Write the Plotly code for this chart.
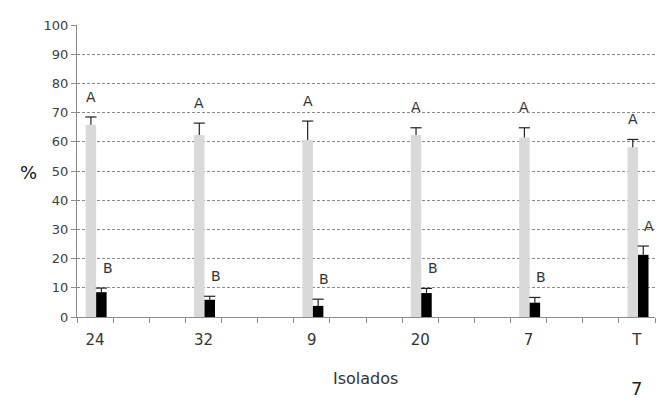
import plotly.graph_objects as go

categories = ["24", "32", "9", "20", "7", "T"]
gray_values = [65.8, 62.3, 60.6, 62.3, 61.5, 58.1]
gray_errors = [2.7, 4.1, 6.5, 2.5, 3.3, 2.7]
gray_letters = ["A", "A", "A", "A", "A", "A"]
black_values = [8.5, 5.9, 3.8, 8.2, 4.9, 21.3]
black_errors = [1.4, 1.2, 2.3, 1.6, 1.8, 3.0]
black_letters = ["B", "B", "B", "B", "B", "A"]
y_ticks = [0, 10, 20, 30, 40, 50, 60, 70, 80, 90, 100]

SLOTS_PER_GROUP = 3
xpos = [i * SLOTS_PER_GROUP for i in range(len(categories))]
n_slots = len(categories) * SLOTS_PER_GROUP - (SLOTS_PER_GROUP - 1)
BW = 0.29
ERR_COLOR = "#222222"

fig = go.Figure()
series = [
    (gray_values, gray_errors, gray_letters, "#d9d9d9", -BW + 0.03),
    (black_values, black_errors, black_letters, "#000000", 0.03),
]
for vals, errs, _, color, off in series:
    fig.add_trace(go.Bar(
        x=xpos, y=vals, width=BW, offset=off,
        marker=dict(color=color, line=dict(width=0)),
        error_y=dict(type="data", symmetric=False, array=errs,
                     arrayminus=[0] * len(errs), color=ERR_COLOR,
                     thickness=1.2, width=0),
        showlegend=False, hoverinfo="skip"))
    # caps at the top of each error bar (T shape)
    centers = [x + off + BW / 2 for x in xpos]
    fig.add_trace(go.Scatter(
        x=centers, y=[v + e for v, e in zip(vals, errs)], mode="markers",
        marker=dict(symbol="line-ew", size=8, line=dict(width=1.2, color=ERR_COLOR)),
        showlegend=False, hoverinfo="skip"))

annotations = []
for x, v, e, t in zip(xpos, gray_values, gray_errors, gray_letters):
    annotations.append(dict(x=x - BW / 2 + 0.03, y=v + e + 7, text=t, showarrow=False,
                            xref="x", yref="y", font=dict(size=14, color="#333333",
                            family="DejaVu Sans")))
for x, v, e, t in zip(xpos, black_values, black_errors, black_letters):
    annotations.append(dict(x=x + BW / 2 + 0.03 + 0.17, y=v + e + 7, text=t, showarrow=False,
                            xref="x", yref="y", font=dict(size=14, color="#333333",
                            family="DejaVu Sans")))
annotations.append(dict(x=28, y=172, text="%", showarrow=False,
                        font=dict(size=18, color="#111111", family="DejaVu Sans")))
annotations.append(dict(x=365, y=378, text="Isolados", showarrow=False,
                        font=dict(size=16, color="#333333", family="DejaVu Sans")))
annotations.append(dict(x=636, y=388, text="7", showarrow=False,
                        font=dict(size=18, color="#222222", family="DejaVu Sans")))

# convert pixel-positioned text annotations to paper coords
L, R, T, B = 77, 3, 25, 81
W, H = 658, 398
for a in annotations[-3:]:
    px, py = a["x"], a["y"]
    a["x"] = (px - L) / (W - L - R)
    a["y"] = (H - B - py) / (H - T - B)
    a["xref"] = "paper"
    a["yref"] = "paper"
    a["xanchor"] = "center"
    a["yanchor"] = "middle"

fig.update_layout(
    width=W, height=H,
    margin=dict(l=L, r=R, t=T, b=B, autoexpand=False),
    paper_bgcolor="white", plot_bgcolor="white",
    barmode="overlay",
    annotations=annotations,
    font=dict(family="DejaVu Sans", color="#404040"),
    xaxis=dict(
        range=[-0.5, n_slots - 0.5], automargin=False,
        tickvals=xpos, ticktext=categories, ticks="", showgrid=False,
        tickfont=dict(size=15, color="#333333"),
        showline=True, linecolor="#8c8c8c", linewidth=1.2,
        ticklabelstandoff=9,
        minor=dict(tickvals=[i - 0.5 for i in range(n_slots + 1)], ticks="outside",
                   ticklen=5, tickcolor="#8c8c8c", showgrid=False),
        zeroline=False, fixedrange=True),
    yaxis=dict(
        range=[0, 100], tickvals=y_ticks, ticks="outside", ticklen=5, automargin=False,
        tickcolor="#8c8c8c", tickfont=dict(size=13, color="#404040"),
        showgrid=True, gridcolor="#8a8a8a", griddash="3px,2px", gridwidth=0.8,
        showline=True, linecolor="#8c8c8c", linewidth=1.2,
        zeroline=False, fixedrange=True),
)

fig.write_html("out.html", config={"displayModeBar": False})
with open("out.html", "r", encoding="utf-8") as f:
    html = f.read()
html = html.replace("<body>", '<body style="margin:0;padding:0;overflow:hidden">', 1)
with open("out.html", "w", encoding="utf-8") as f:
    f.write(html)
